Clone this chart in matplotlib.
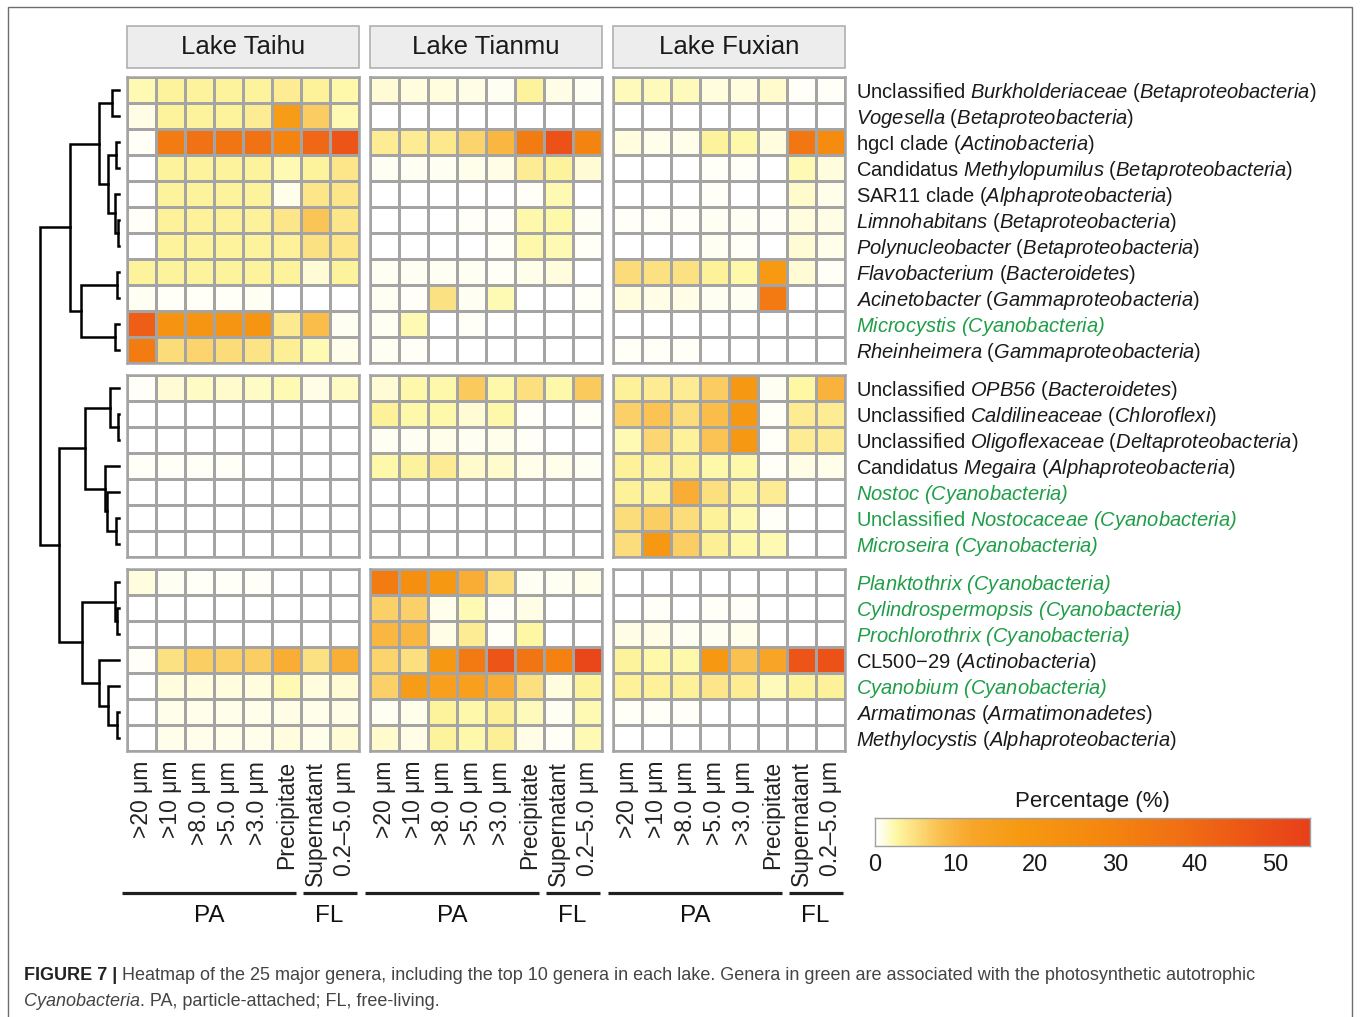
import numpy as np
import matplotlib
matplotlib.use("Agg")
import matplotlib.pyplot as plt
from matplotlib.colors import LinearSegmentedColormap, Normalize
from matplotlib.patches import Rectangle
from matplotlib.lines import Line2D
from matplotlib import font_manager as fm

plt.rcParams['font.family'] = ['Liberation Sans', 'DejaVu Sans']
plt.rcParams['mathtext.fontset'] = 'custom'
plt.rcParams['mathtext.rm'] = 'Liberation Sans'
plt.rcParams['mathtext.it'] = 'Liberation Sans:italic'
plt.rcParams['mathtext.sf'] = 'Liberation Sans:italic'
plt.rcParams['mathtext.bf'] = 'Liberation Sans:bold'

_names = {f.name for f in fm.fontManager.ttflist}
NARROW = 'Liberation Sans Narrow' if 'Liberation Sans Narrow' in _names else None

# ---------------------------------------------------------------- data
lakes = ["Lake Taihu", "Lake Tianmu", "Lake Fuxian"]
fractions = [">20 μm", ">10 μm", ">8.0 μm", ">5.0 μm", ">3.0 μm",
             "Precipitate", "Supernatant", "0.2–5.0 μm"]
size_groups = ["PA", "FL"]
pa_columns = 6

# italic parts are set with \mathsf (mapped to the italic face)
genera = [
    r"Unclassified $\mathsf{Burkholderiaceae}$ ($\mathsf{Betaproteobacteria}$)",
    r"$\mathsf{Vogesella}$ ($\mathsf{Betaproteobacteria}$)",
    r"hgcI clade ($\mathsf{Actinobacteria}$)",
    r"Candidatus $\mathsf{Methylopumilus}$ ($\mathsf{Betaproteobacteria}$)",
    r"SAR11 clade ($\mathsf{Alphaproteobacteria}$)",
    r"$\mathsf{Limnohabitans}$ ($\mathsf{Betaproteobacteria}$)",
    r"$\mathsf{Polynucleobacter}$ ($\mathsf{Betaproteobacteria}$)",
    r"$\mathsf{Flavobacterium}$ ($\mathsf{Bacteroidetes}$)",
    r"$\mathsf{Acinetobacter}$ ($\mathsf{Gammaproteobacteria}$)",
    r"$\mathsf{Microcystis\ (Cyanobacteria)}$",
    r"$\mathsf{Rheinheimera}$ ($\mathsf{Gammaproteobacteria}$)",
    r"Unclassified $\mathsf{OPB56}$ ($\mathsf{Bacteroidetes}$)",
    r"Unclassified $\mathsf{Caldilineaceae}$ ($\mathsf{Chloroflexi}$)",
    r"Unclassified $\mathsf{Oligoflexaceae}$ ($\mathsf{Deltaproteobacteria}$)",
    r"Candidatus $\mathsf{Megaira}$ ($\mathsf{Alphaproteobacteria}$)",
    r"$\mathsf{Nostoc\ (Cyanobacteria)}$",
    r"Unclassified $\mathsf{Nostocaceae\ (Cyanobacteria)}$",
    r"$\mathsf{Microseira\ (Cyanobacteria)}$",
    r"$\mathsf{Planktothrix\ (Cyanobacteria)}$",
    r"$\mathsf{Cylindrospermopsis\ (Cyanobacteria)}$",
    r"$\mathsf{Prochlorothrix\ (Cyanobacteria)}$",
    r"CL500−29 ($\mathsf{Actinobacteria}$)",
    r"$\mathsf{Cyanobium\ (Cyanobacteria)}$",
    r"$\mathsf{Armatimonas}$ ($\mathsf{Armatimonadetes}$)",
    r"$\mathsf{Methylocystis}$ ($\mathsf{Alphaproteobacteria}$)",
]
cyanobacteria = [9, 15, 16, 17, 18, 19, 20, 22]
cluster_sizes = [11, 7, 7]

# relative abundance (%) per genus (rows) and fraction (columns)
taihu = [
    [2.3, 3.0, 3.0, 3.0, 3.0, 3.8, 3.3, 2.5],
    [1.0, 3.0, 3.0, 3.0, 3.8, 17, 6.8, 2.2],
    [0.4, 33, 37, 36, 37, 30, 41, 47],
    [0.0, 3.0, 3.0, 3.0, 3.0, 2.3, 3.0, 4.4],
    [0.0, 3.0, 3.0, 3.0, 3.0, 0.8, 4.4, 4.4],
    [0.4, 3.3, 3.3, 3.3, 3.3, 4.4, 7.6, 4.4],
    [0.0, 3.0, 3.0, 3.0, 3.0, 3.3, 4.8, 4.4],
    [3.0, 3.0, 3.0, 3.0, 3.0, 3.0, 1.4, 3.0],
    [0.6, 0.3, 0.4, 0.3, 0.5, 0.2, 0.2, 0.1],
    [44, 22, 21, 21, 21, 4.0, 8.5, 0.5],
    [33, 5.5, 6.0, 5.5, 4.5, 3.5, 2.2, 0.8],
    [0.4, 1.4, 1.7, 1.5, 1.7, 2.3, 1.0, 1.7],
    [0.0, 0.0, 0.0, 0.0, 0.0, 0.0, 0.0, 0.0],
    [0.0, 0.0, 0.0, 0.0, 0.0, 0.0, 0.0, 0.0],
    [0.4, 0.4, 0.4, 0.3, 0.2, 0.2, 0.1, 0.1],
    [0.0, 0.0, 0.0, 0.0, 0.0, 0.0, 0.0, 0.0],
    [0.0, 0.0, 0.0, 0.0, 0.0, 0.0, 0.0, 0.0],
    [0.0, 0.0, 0.0, 0.0, 0.0, 0.0, 0.0, 0.0],
    [1.2, 0.5, 0.4, 0.3, 0.3, 0.0, 0.2, 0.0],
    [0.0, 0.0, 0.0, 0.0, 0.0, 0.0, 0.0, 0.0],
    [0.0, 0.0, 0.0, 0.0, 0.0, 0.0, 0.0, 0.0],
    [0.3, 4.8, 6.7, 6.5, 6.7, 11, 4.8, 10.8],
    [0.2, 1.2, 1.2, 1.1, 1.2, 2.2, 1.1, 1.4],
    [0.0, 0.8, 0.7, 0.7, 0.7, 1.0, 0.7, 0.9],
    [0.0, 0.8, 0.7, 0.7, 0.8, 1.2, 0.8, 1.3],
]
tianmu = [
    [1.3, 1.2, 1.1, 0.9, 0.6, 3.0, 0.9, 0.5],
    [0.0, 0.0, 0.0, 0.0, 0.0, 0.0, 0.0, 0.0],
    [3.8, 3.8, 4.2, 6.0, 9.5, 33, 48, 30],
    [0.6, 0.5, 0.6, 0.7, 1.0, 3.8, 3.0, 1.4],
    [0.2, 0.0, 0.0, 0.2, 0.2, 0.4, 2.2, 0.1],
    [0.1, 0.2, 0.0, 0.3, 0.3, 2.5, 2.5, 0.5],
    [0.1, 0.1, 0.2, 0.2, 0.4, 2.5, 2.2, 0.4],
    [0.5, 0.5, 0.6, 0.5, 0.4, 0.7, 1.2, 0.2],
    [0.6, 0.3, 4.8, 0.5, 2.3, 0.0, 0.0, 0.3],
    [0.6, 2.3, 0.1, 0.4, 0.0, 0.0, 0.0, 0.0],
    [0.5, 0.4, 0.0, 0.0, 0.0, 0.2, 0.0, 0.0],
    [1.3, 2.5, 2.4, 7.2, 2.5, 5.0, 2.5, 7.2],
    [3.3, 2.5, 2.4, 1.3, 2.5, 0.3, 0.2, 0.3],
    [0.6, 0.6, 0.8, 0.6, 0.7, 0.4, 0.1, 0.1],
    [2.5, 3.1, 3.8, 1.5, 1.5, 0.8, 0.7, 0.6],
    [0.0, 0.0, 0.0, 0.0, 0.0, 0.0, 0.0, 0.0],
    [0.0, 0.0, 0.0, 0.0, 0.0, 0.0, 0.0, 0.0],
    [0.0, 0.0, 0.0, 0.0, 0.0, 0.0, 0.0, 0.0],
    [33, 24, 19, 11, 5.0, 0.6, 0.5, 0.8],
    [6.5, 6.5, 0.8, 2.2, 0.3, 1.0, 0.0, 0.0],
    [9.5, 9.5, 1.0, 3.8, 0.3, 2.6, 0.2, 0.0],
    [6.0, 5.0, 19, 34, 47, 36, 31, 52],
    [6.5, 17, 15, 15, 11, 5.0, 1.2, 3.0],
    [0.5, 0.8, 3.0, 2.5, 3.5, 2.0, 0.6, 2.2],
    [1.5, 1.0, 3.0, 2.5, 3.5, 1.0, 0.4, 2.2],
]
fuxian = [
    [2.0, 2.0, 2.0, 1.2, 1.2, 1.5, 0.4, 0.4],
    [0.0, 0.0, 0.0, 0.0, 0.0, 0.0, 0.0, 0.0],
    [1.2, 0.7, 0.7, 3.0, 2.4, 1.2, 35, 26],
    [0.0, 0.0, 0.0, 0.3, 0.3, 0.0, 2.3, 1.2],
    [0.0, 0.0, 0.0, 0.3, 0.0, 0.0, 1.5, 0.7],
    [0.4, 0.4, 0.3, 0.5, 0.5, 0.3, 1.2, 0.9],
    [0.0, 0.0, 0.0, 0.5, 0.4, 0.0, 1.3, 0.8],
    [5.5, 4.8, 4.8, 3.3, 2.4, 18, 1.4, 0.3],
    [1.2, 1.0, 1.0, 0.6, 0.6, 34, 0.0, 0.0],
    [0.0, 0.0, 0.0, 0.0, 0.0, 0.0, 0.0, 0.0],
    [0.3, 0.3, 0.3, 0.2, 0.1, 0.2, 0.0, 0.0],
    [3.3, 3.8, 3.8, 7.0, 19, 0.6, 2.6, 10],
    [6.5, 7.8, 5.3, 8.5, 19, 0.4, 3.8, 3.8],
    [2.2, 5.8, 3.3, 7.8, 19, 0.4, 3.8, 3.8],
    [3.3, 3.0, 3.3, 2.5, 2.4, 0.4, 0.9, 0.8],
    [3.3, 3.3, 11, 5.0, 3.0, 3.8, 0.0, 0.0],
    [5.3, 6.7, 5.3, 3.3, 2.2, 0.3, 0.0, 0.0],
    [5.3, 19, 6.7, 3.5, 2.4, 2.3, 0.0, 0.0],
    [0.0, 0.2, 0.0, 0.0, 0.2, 0.0, 0.0, 0.0],
    [0.2, 0.3, 0.1, 0.3, 0.3, 0.0, 0.0, 0.0],
    [0.9, 1.0, 0.6, 0.6, 0.8, 0.0, 0.0, 0.0],
    [3.0, 2.5, 2.5, 19, 8.0, 13, 47, 48],
    [3.3, 3.3, 3.3, 4.4, 3.8, 2.0, 3.0, 3.3],
    [0.4, 0.4, 0.3, 0.2, 0.0, 0.0, 0.0, 0.0],
    [0.0, 0.0, 0.0, 0.0, 0.0, 0.0, 0.0, 0.0],
]
lake_data = [taihu, tianmu, fuxian]

# genus clustering: (merge height, left, right); leaves are row indices
tree = (79,
        (49,
         (20, (7, 0, 1), (11, (3, 2, 3), (4, 4, (1, 5, 6)))),
         (38, (2, 7, 8), (4, 9, 10))),
        (60,
         (34, (9, 11, (1, 12, 13)), (14, 14, (12, 15, (3, 16, 17)))),
         (37, (4, 18, (2, 19, 20)), (20, 21, (11, 22, (2, 23, 24))))))

vmax = 54.4
cbar_ticks = [0, 10, 20, 30, 40, 50]

# ---------------------------------------------------------------- colours
cmap_nodes = [(0, "#FFFFFF"), (1, "#FFFDE0"), (2.5, "#FEF8A4"), (5, "#FCDE7E"),
              (8, "#FAC04E"), (12, "#F8A62A"), (18, "#F79A12"), (28, "#F5880F"),
              (38, "#F17014"), (46, "#ED5816"), (vmax, "#E8401A")]
cmap = LinearSegmentedColormap.from_list(
    "pct", [(v / vmax, c) for v, c in cmap_nodes])
norm = Normalize(0, vmax)
GRID = "#A4A4A4"
GREEN = "#1F9E47"
TEXT = "#1A1A1A"

# ---------------------------------------------------------------- layout
W, H = 1360, 1017
fig = plt.figure(figsize=(W / 100, H / 100), dpi=100)


def fx(px):
    return px / W


def fy(py):
    return 1 - py / H


panel_left = [127, 370, 613]
panel_w = 231.5
cluster_top = [77, 375, 569]
row_h = 26

# outer frame
fig.add_artist(Rectangle((fx(8), -0.05), fx(1352 - 8), fy(7) + 0.05,
                         transform=fig.transFigure, fill=False,
                         edgecolor="#6E6E6E", linewidth=1.0))

row_starts = np.cumsum([0] + cluster_sizes[:-1])
leaf_y = {}
for g, (start, n) in enumerate(zip(row_starts, cluster_sizes)):
    for r in range(n):
        leaf_y[start + r] = fy(cluster_top[g] + (r + 0.5) * row_h)

for li, (lake, data) in enumerate(zip(lakes, lake_data)):
    arr = np.asarray(data, dtype=float)
    left = panel_left[li]
    # strip header
    fig.add_artist(Rectangle((fx(left), fy(68)), panel_w / W, 42 / H,
                             transform=fig.transFigure, facecolor="#EDEDED",
                             edgecolor="#B0B0B0", linewidth=1.2))
    fig.text(fx(left + panel_w / 2), fy(47), lake, ha="center",
             va="center", fontsize=18.5, color=TEXT)
    for g, (start, n) in enumerate(zip(row_starts, cluster_sizes)):
        top = cluster_top[g]
        ax = fig.add_axes([fx(left), fy(top + n * row_h), panel_w / W,
                           n * row_h / H])
        block = arr[start:start + n]
        ax.pcolormesh(np.arange(block.shape[1] + 1), np.arange(n + 1), block,
                      cmap=cmap, norm=norm, edgecolors=GRID, linewidth=1.8)
        ax.set_xlim(0, block.shape[1])
        ax.set_ylim(n, 0)
        for s in ax.spines.values():
            s.set_color(GRID)
            s.set_linewidth(1.8)
        ax.tick_params(length=0)
        ax.set_yticks([])
        if g == len(cluster_sizes) - 1:
            ax.set_xticks(np.arange(len(fractions)) + 0.5)
            ax.set_xticklabels(fractions, rotation=90, fontsize=16.5,
                               color="#222222", va="top")
            ax.tick_params(axis="x", pad=7)
        else:
            ax.set_xticks([])
        if li == len(lakes) - 1:
            for r in range(n):
                gi = start + r
                ax.annotate(genera[gi], xy=(1, r + 0.5),
                            xycoords=("axes fraction", "data"),
                            xytext=(8.5, 0), textcoords="offset points",
                            ha="left", va="center_baseline", fontsize=14.5,
                            color=GREEN if gi in cyanobacteria else TEXT)

    # PA / FL brackets
    cw = panel_w / 8
    spans = [(left - 5, left + pa_columns * cw - 5),
             (left + pa_columns * cw + 2, left + panel_w - 2)]
    for lab, (x0, x1) in zip(size_groups, spans):
        fig.add_artist(Line2D([fx(x0), fx(x1)], [fy(893), fy(893)],
                              transform=fig.transFigure, color="#231F20",
                              linewidth=2.3, solid_capstyle="butt"))
        fam = [NARROW, 'Liberation Sans'] if NARROW else ['Liberation Sans']
        fig.text(fx((x0 + x1) / 2), fy(916), lab, ha="center", va="center",
                 fontsize=19 if NARROW else 17.5, family=fam, color="#111111")

# ---------------------------------------------------------------- dendrogram
ax_d = fig.add_axes([fx(40), fy(751), (119 - 40) / W, (751 - 77) / H])
ax_d.set_xlim(tree[0], 0)
ax_d.set_ylim(fy(751), fy(77))
ax_d.axis("off")


def draw_node(node):
    if isinstance(node, int):
        return leaf_y[node], 0.0
    h, a, b = node
    ya, ha = draw_node(a)
    yb, hb = draw_node(b)
    ax_d.plot([ha, h, h, hb], [ya, ya, yb, yb], color="black",
              linewidth=1.8, solid_joinstyle="miter", clip_on=False)
    return (ya + yb) / 2, h


draw_node(tree)

# ---------------------------------------------------------------- colour bar
ax_cb = fig.add_axes([fx(875), fy(846), 435 / W, 28 / H])
grad = np.linspace(0, vmax, 600)[None, :]
ax_cb.imshow(grad, extent=[0, vmax, 0, 1], aspect="auto", cmap=cmap,
             norm=norm, interpolation="bilinear")
ax_cb.set_xlim(0, vmax)
ax_cb.set_yticks([])
ax_cb.set_xticks(cbar_ticks)
ax_cb.set_xticklabels([str(t) for t in cbar_ticks], fontsize=17, color=TEXT)
ax_cb.tick_params(length=0, pad=6)
for s in ax_cb.spines.values():
    s.set_color("#A0A0A0")
    s.set_linewidth(1.0)
ax_cb.set_title("Percentage (%)", fontsize=16, color=TEXT, pad=8)

# ---------------------------------------------------------------- caption
cap_fam = [NARROW, 'Liberation Sans'] if NARROW else ['Liberation Sans']
cap_size = 14.5 if NARROW else 13
fig.canvas.draw()
renderer = fig.canvas.get_renderer()


def caption_line(pieces, x_px, y_px):
    x = fx(x_px)
    for txt, kw in pieces:
        t = fig.text(x, fy(y_px), txt, ha="left", va="baseline",
                     fontsize=cap_size, family=cap_fam, **kw)
        bb = t.get_window_extent(renderer)
        x += bb.width / W


caption_line([("FIGURE 7 |", dict(fontweight="bold", color="#222222")),
              (" Heatmap of the 25 major genera, including the top 10 genera "
               "in each lake. Genera in green are associated with the "
               "photosynthetic autotrophic", dict(color="#444444"))],
             24, 980)
caption_line([("Cyanobacteria", dict(style="italic", color="#444444")),
              (". PA, particle-attached; FL, free-living.",
               dict(color="#444444"))], 24, 1006)

fig.savefig("out.png", dpi=100)
